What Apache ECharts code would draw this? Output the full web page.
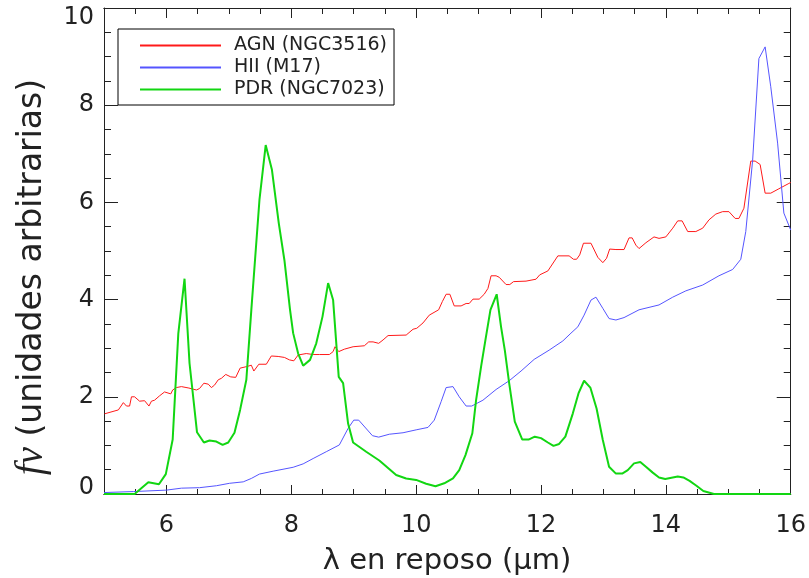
<!DOCTYPE html>
<html>
<head>
<meta charset="utf-8">
<script src="https://cdn.jsdelivr.net/npm/echarts@6/dist/echarts.min.js"></script>
<style>
  html, body { margin: 0; padding: 0; background: #fff; }
  #chart { width: 809px; height: 578px; }
</style>
</head>
<body>
<div id="chart"></div>
<script>
// Rest-frame mid-infrared spectra: [wavelength (µm), flux (arbitrary units)]
const seriesNames = ['AGN (NGC3516)', 'HII (M17)', 'PDR (NGC7023)'];

const agnSpectrum = [
  [5.01,1.65],[5.23,1.73],[5.31,1.88],[5.36,1.81],[5.41,1.81],[5.44,2.00],[5.49,2.00],[5.57,1.91],
  [5.65,1.92],[5.72,1.81],[5.76,1.91],[5.81,1.93],[5.89,2.02],[5.97,2.10],[6.07,2.06],[6.10,2.14],
  [6.16,2.19],[6.24,2.21],[6.36,2.18],[6.48,2.14],[6.53,2.17],[6.60,2.28],[6.67,2.26],[6.72,2.19],
  [6.77,2.24],[6.83,2.35],[6.88,2.38],[6.95,2.46],[7.03,2.41],[7.11,2.40],[7.18,2.59],[7.28,2.62],
  [7.36,2.65],[7.40,2.53],[7.48,2.67],[7.60,2.67],[7.68,2.84],[7.79,2.83],[7.89,2.81],[7.97,2.76],
  [8.04,2.74],[8.11,2.86],[8.24,2.89],[8.35,2.87],[8.45,2.87],[8.61,2.87],[8.67,2.93],[8.70,3.03],
  [8.76,2.93],[8.85,2.98],[8.99,3.03],[9.17,3.05],[9.24,3.13],[9.31,3.13],[9.40,3.10],[9.47,3.17],
  [9.55,3.26],[9.84,3.27],[9.95,3.39],[10.01,3.41],[10.11,3.52],[10.21,3.68],[10.36,3.79],[10.42,3.96],
  [10.48,4.11],[10.54,4.11],[10.61,3.87],[10.72,3.87],[10.80,3.92],[10.85,3.92],[10.91,4.01],[11.01,4.01],
  [11.09,4.11],[11.15,4.23],[11.20,4.49],[11.28,4.49],[11.33,4.46],[11.44,4.31],[11.50,4.31],[11.56,4.37],
  [11.76,4.38],[11.84,4.40],[11.92,4.42],[11.98,4.51],[12.11,4.59],[12.27,4.90],[12.45,4.90],[12.52,4.83],
  [12.57,4.83],[12.62,4.92],[12.68,5.16],[12.80,5.16],[12.91,4.87],[12.99,4.76],[13.05,4.85],[13.10,5.04],
  [13.20,5.03],[13.33,5.03],[13.41,5.27],[13.46,5.27],[13.52,5.12],[13.57,5.05],[13.68,5.17],[13.81,5.29],
  [13.89,5.26],[14.00,5.29],[14.11,5.47],[14.19,5.62],[14.26,5.62],[14.35,5.40],[14.48,5.40],[14.59,5.47],
  [14.69,5.64],[14.80,5.76],[14.91,5.81],[15.01,5.81],[15.11,5.67],[15.17,5.67],[15.25,5.88],[15.36,6.85],
  [15.43,6.85],[15.51,6.78],[15.59,6.19],[15.68,6.19],[15.81,6.28],[15.97,6.39],[16.00,6.41]
];

const hiiSpectrum = [
  [5.00,0.03],[5.47,0.05],[6.00,0.08],[6.24,0.12],[6.53,0.13],[6.80,0.17],[7.01,0.22],[7.23,0.25],
  [7.36,0.32],[7.49,0.41],[7.71,0.47],[8.03,0.55],[8.19,0.62],[8.35,0.73],[8.56,0.87],[8.77,1.01],
  [8.91,1.35],[9.00,1.52],[9.08,1.52],[9.30,1.20],[9.40,1.17],[9.57,1.23],[9.79,1.26],[10.00,1.32],
  [10.19,1.37],[10.29,1.52],[10.40,1.90],[10.48,2.19],[10.59,2.21],[10.69,2.00],[10.80,1.81],[10.89,1.81],
  [11.07,1.93],[11.28,2.15],[11.49,2.33],[11.68,2.53],[11.89,2.77],[12.13,2.96],[12.35,3.15],[12.48,3.31],
  [12.59,3.44],[12.69,3.68],[12.80,3.99],[12.88,4.05],[12.99,3.82],[13.09,3.61],[13.20,3.58],[13.33,3.63],
  [13.57,3.79],[13.89,3.89],[14.11,4.05],[14.32,4.18],[14.59,4.30],[14.85,4.49],[15.07,4.62],[15.20,4.83],
  [15.28,5.40],[15.39,6.87],[15.49,8.96],[15.59,9.20],[15.68,8.38],[15.79,7.22],[15.89,5.78],[16.00,5.43]
];

const pdrSpectrum = [
  [5.00,0.00],[5.49,0.00],[5.71,0.24],[5.88,0.20],[5.99,0.41],[6.10,1.12],[6.19,3.30],[6.29,4.43],
  [6.37,2.69],[6.49,1.27],[6.60,1.06],[6.69,1.10],[6.80,1.08],[6.90,1.01],[6.99,1.06],[7.09,1.26],
  [7.18,1.73],[7.28,2.35],[7.36,3.79],[7.49,6.05],[7.59,7.18],[7.69,6.67],[7.80,5.57],[7.89,4.81],
  [7.98,3.79],[8.03,3.31],[8.11,2.89],[8.19,2.64],[8.30,2.76],[8.40,3.10],[8.50,3.65],[8.59,4.34],
  [8.67,3.99],[8.76,2.41],[8.83,2.28],[8.91,1.45],[8.99,1.06],[9.20,0.87],[9.41,0.69],[9.68,0.39],
  [9.84,0.32],[10.00,0.29],[10.16,0.21],[10.31,0.16],[10.45,0.22],[10.59,0.32],[10.69,0.49],[10.79,0.80],
  [10.90,1.25],[10.96,1.93],[11.04,2.62],[11.11,3.17],[11.19,3.79],[11.29,4.11],[11.36,3.44],[11.42,2.96],
  [11.49,2.28],[11.58,1.49],[11.70,1.12],[11.80,1.12],[11.90,1.18],[12.00,1.15],[12.11,1.06],[12.20,0.99],
  [12.29,1.03],[12.39,1.18],[12.51,1.66],[12.60,2.07],[12.69,2.33],[12.79,2.19],[12.89,1.76],[12.99,1.11],
  [13.09,0.56],[13.20,0.42],[13.30,0.42],[13.39,0.49],[13.49,0.63],[13.59,0.66],[13.69,0.55],[13.79,0.44],
  [13.89,0.34],[13.99,0.31],[14.11,0.34],[14.19,0.36],[14.28,0.34],[14.38,0.27],[14.49,0.17],[14.60,0.06],
  [14.77,0.00],[16.00,0.00]
];

// Axis tick positions
const xMajorTicks = [6, 8, 10, 12, 14, 16];
const xMinorTicks = [5.5, 6.5, 7, 7.5, 8.5, 9, 9.5, 10.5, 11, 11.5, 12.5, 13, 13.5, 14.5, 15, 15.5];

const ink = '#222';
const labelFont = 'DejaVu Sans';

const chart = echarts.init(document.getElementById('chart'), null, { renderer: 'canvas' });

function xAxisLayer(position, ticks, len, withLabels) {
  return {
    type: 'value', position: position, min: 5, max: 16, gridIndex: 0,
    axisLine: { show: true, onZero: false, lineStyle: { color: ink, width: 1 } },
    axisTick: { show: true, inside: true, length: len, customValues: ticks, lineStyle: { color: ink, width: 1 } },
    axisLabel: withLabels ? {
      show: true, customValues: ticks, margin: 20,
      fontFamily: labelFont, fontSize: 24, color: ink
    } : { show: false },
    splitLine: { show: false }
  };
}

function yAxisLayer(position, withLabels) {
  return {
    type: 'value', position: position, min: 0, max: 10, interval: 2,
    axisLine: { show: true, onZero: false, lineStyle: { color: ink, width: 1 } },
    axisTick: { show: true, inside: true, length: 14, lineStyle: { color: ink, width: 1 } },
    minorTick: { show: true, splitNumber: 4, length: 7, lineStyle: { color: ink, width: 1 } },
    axisLabel: withLabels ? {
      show: true, margin: 10, fontFamily: labelFont, fontSize: 24, color: ink,
      // keep the end labels inside the frame: top one nudged down, bottom one up
      formatter: function (v) {
        if (v === 10) return '{lo|' + v + '}';
        if (v === 0) return '{hi|' + v + '}';
        return String(v);
      },
      rich: {
        lo: { fontFamily: labelFont, fontSize: 24, color: ink, padding: [20, 0, 0, 0] },
        hi: { fontFamily: labelFont, fontSize: 24, color: ink, padding: [0, 0, 12, 0] }
      }
    } : { show: false },
    splitLine: { show: false },
    minorSplitLine: { show: false }
  };
}

function lineSeries(name, data, color, width) {
  return {
    name: name, type: 'line', xAxisIndex: 0, yAxisIndex: 0,
    data: data, showSymbol: false, symbol: 'none', smooth: false,
    lineStyle: { color: color, width: width }, itemStyle: { color: color },
    animation: false, clip: true
  };
}

chart.setOption({
  backgroundColor: '#fff',
  animation: false,
  grid: { left: 104, right: 18, top: 8, bottom: 84, containLabel: false },
  xAxis: [
    xAxisLayer('bottom', xMajorTicks, 9, true),
    xAxisLayer('bottom', xMinorTicks, 5, false),
    xAxisLayer('top', xMajorTicks, 10, false),
    xAxisLayer('top', xMinorTicks, 6, false)
  ],
  yAxis: [
    yAxisLayer('left', true),
    yAxisLayer('right', false)
  ],
  legend: {
    data: seriesNames,
    orient: 'vertical',
    left: 118, top: 29,
    padding: [7, 7, 6, 21],
    itemWidth: 81, itemHeight: 14, itemGap: 3,
    borderColor: '#000', borderWidth: 1,
    backgroundColor: '#fff',
    selectedMode: false,
    itemStyle: { opacity: 0 },
    textStyle: { fontFamily: labelFont, fontSize: 19, color: ink, padding: [0, 0, 0, 8] }
  },
  series: [
    lineSeries(seriesNames[0], agnSpectrum, '#ff1a1a', 1),
    lineSeries(seriesNames[1], hiiSpectrum, '#5555ff', 1),
    lineSeries(seriesNames[2], pdrSpectrum, '#12d612', 2)
  ],
  graphic: [
    {
      type: 'text', x: 447, y: 561,
      style: {
        text: 'λ en reposo (μm)',
        font: '29px "DejaVu Sans"', fill: ink,
        textAlign: 'center', textVerticalAlign: 'middle'
      }
    },
    {
      type: 'text', x: 32, y: 277, rotation: Math.PI / 2,
      style: {
        text: '{f|fν} (unidades arbitrarias)',
        font: '33px "DejaVu Sans"', fill: ink,
        textAlign: 'center', textVerticalAlign: 'middle',
        rich: {
          f: { fontFamily: 'Liberation Serif', fontStyle: 'italic', fontSize: 39, fill: ink, color: ink }
        }
      }
    }
  ]
});
</script>
</body>
</html>
